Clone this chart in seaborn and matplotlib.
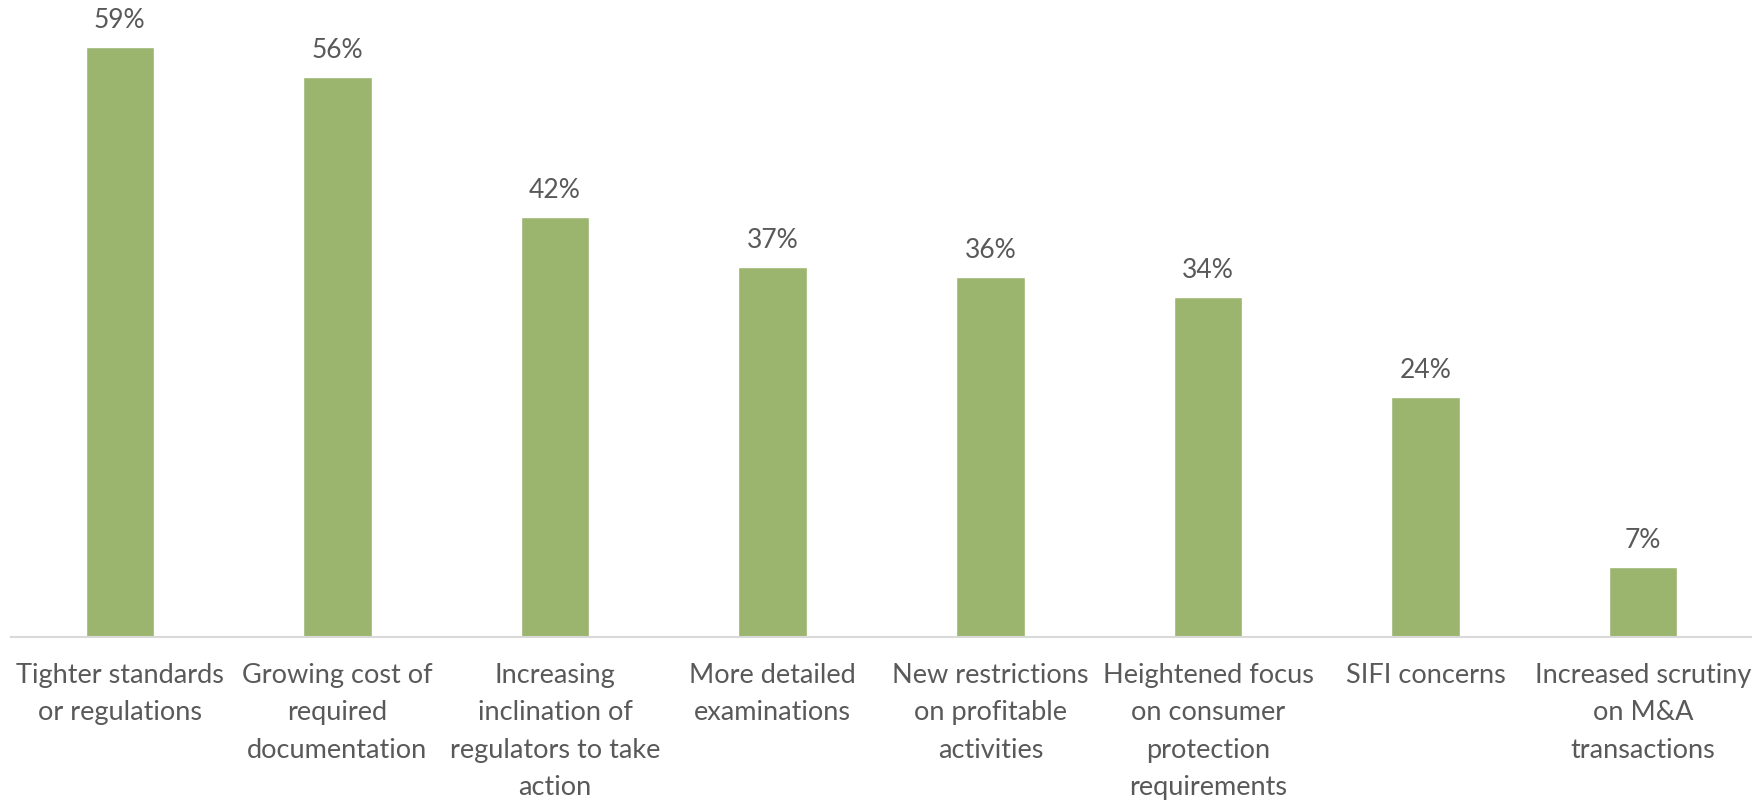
import matplotlib
matplotlib.use("Agg")
import matplotlib.pyplot as plt
import seaborn as sns
import pandas as pd

categories = [
    "Tighter standards\nor regulations",
    "Growing cost of\nrequired\ndocumentation",
    "Increasing\ninclination of\nregulators to take\naction",
    "More detailed\nexaminations",
    "New restrictions\non profitable\nactivities",
    "Heightened focus\non consumer\nprotection\nrequirements",
    "SIFI concerns",
    "Increased scrutiny\non M&A\ntransactions",
]
values = [59, 56, 42, 37, 36, 34, 24, 7]

df = pd.DataFrame({"cat": categories, "val": values})

sns.set_theme(style="white")
plt.rcParams["font.family"] = ["Lato", "DejaVu Sans"]

fig = plt.figure(figsize=(17.52, 8.03), dpi=100)
ax = fig.add_axes([0.0063, 0.2055, 0.9937, 0.7945])

sns.barplot(data=df, x="cat", y="val", color="#9BB56F", width=0.315,
            saturation=1, ax=ax)

for i, v in enumerate(values):
    ax.annotate(f"{v}%", (i, v), xytext=(0, 11), textcoords="offset points",
                ha="center", va="bottom", fontsize=19, color="#595959")

ax.set_xlim(-0.5, 7.5)
ax.set_ylim(0, 63.8)
ax.set_xlabel("")
ax.set_ylabel("")
ax.set_yticks([])
ax.tick_params(axis="x", length=0, pad=18, labelsize=19.5, colors="#595959")
for lbl in ax.get_xticklabels():
    lbl.set_linespacing(1.62)
for s in ["top", "right", "left"]:
    ax.spines[s].set_visible(False)
ax.spines["bottom"].set_color("#D9D9D9")
ax.spines["bottom"].set_linewidth(1.5)

plt.savefig("out.png", dpi=100)
